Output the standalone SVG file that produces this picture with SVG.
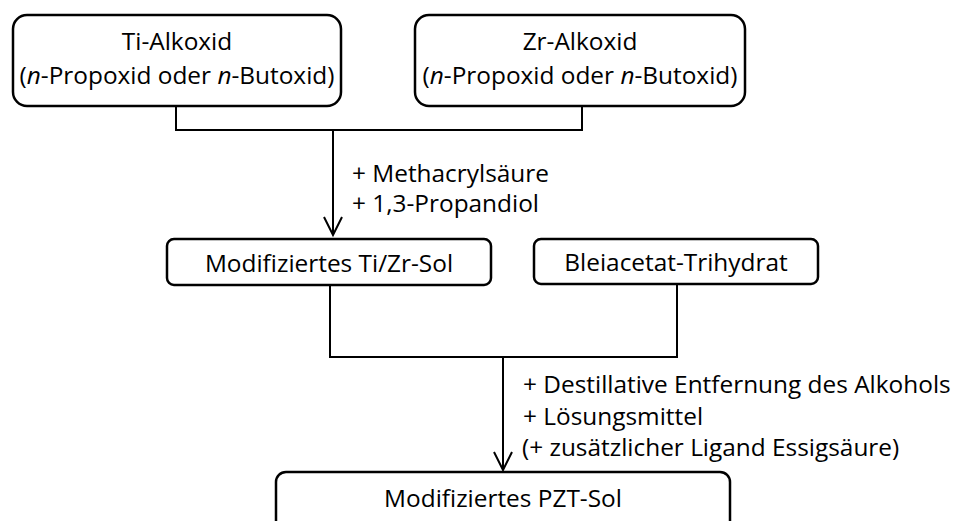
<svg xmlns="http://www.w3.org/2000/svg" width="958" height="521" viewBox="0 0 958 521">
<style>
.box{fill:#fff;stroke:#000;stroke-width:2.5}
.con{fill:none;stroke:#000;stroke-width:2}
.t{font-family:"Open Sans","Noto Sans",sans-serif;font-size:24.4px;fill:#000}
.c{text-anchor:middle}
</style>
<rect width="958" height="521" fill="#fff"/>
<g id="connectors">
<path class="con" d="M176,106 V130 H582 V106"/>
<path class="con" d="M333,130 V234"/>
<polyline class="con" points="324,217 333,235 342,217"/>
<path class="con" d="M330,285 V357 H677 V284"/>
<path class="con" d="M503,357 V469"/>
<polyline class="con" points="494,452 503,470 512,452"/>
</g>
<g id="ti-alkoxid">
<rect class="box" x="13" y="15" width="328" height="91" rx="14"/>
<text class="t c" x="177" y="50">Ti-Alkoxid</text>
<text class="t c" x="177" y="84">(<tspan font-style="italic">n</tspan>-Propoxid oder <tspan font-style="italic">n</tspan>-Butoxid)</text>
</g>
<g id="zr-alkoxid">
<rect class="box" x="415" y="15" width="330" height="91" rx="14"/>
<text class="t c" x="580" y="50">Zr-Alkoxid</text>
<text class="t c" x="580" y="84">(<tspan font-style="italic">n</tspan>-Propoxid oder <tspan font-style="italic">n</tspan>-Butoxid)</text>
</g>
<g id="label1">
<text class="t" x="352" y="182">+ Methacrylsäure</text>
<text class="t" x="352" y="212">+ 1,3-Propandiol</text>
</g>
<g id="tizr-sol">
<rect class="box" x="167" y="239" width="324" height="46" rx="7"/>
<text class="t c" x="329" y="272">Modifiziertes Ti/Zr-Sol</text>
</g>
<g id="bleiacetat">
<rect class="box" x="534" y="239" width="284" height="45" rx="7"/>
<text class="t c" x="676" y="271">Bleiacetat-Trihydrat</text>
</g>
<g id="label2">
<text class="t" x="523" y="393">+ Destillative Entfernung des Alkohols</text>
<text class="t" x="523" y="424.5">+ Lösungsmittel</text>
<text class="t" x="522" y="456">(+ zusätzlicher Ligand Essigsäure)</text>
</g>
<g id="pzt-sol">
<rect class="box" x="276" y="472" width="454" height="62" rx="10"/>
<text class="t c" x="503" y="507">Modifiziertes PZT-Sol</text>
</g>
</svg>
